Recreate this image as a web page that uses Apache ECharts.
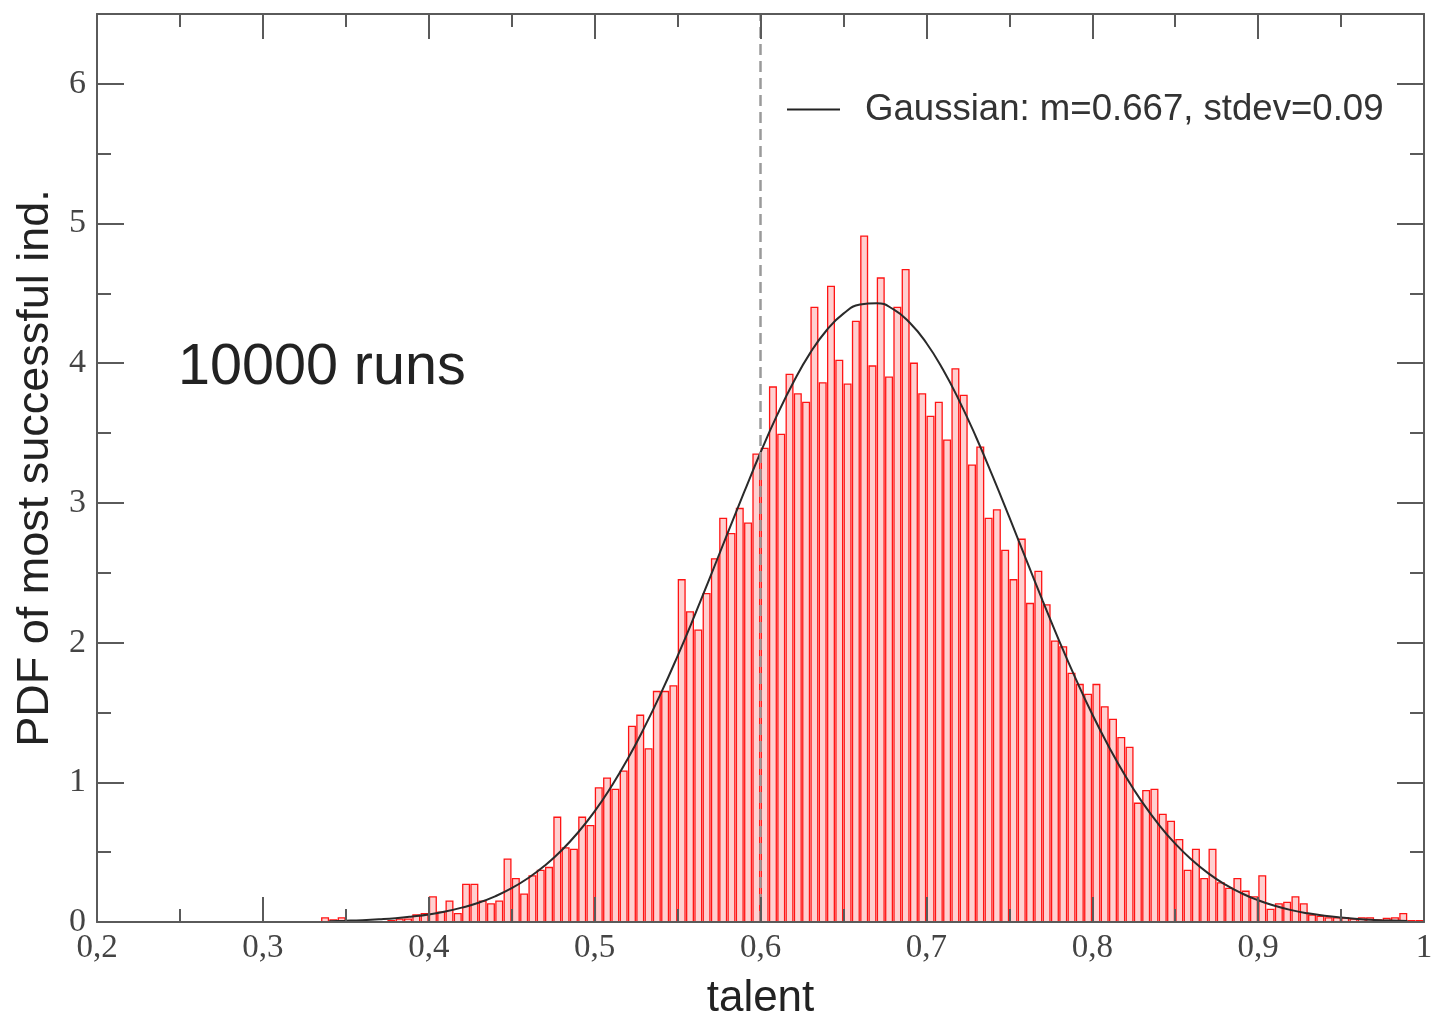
<!DOCTYPE html>
<html>
<head>
<meta charset="utf-8">
<script src="https://cdn.jsdelivr.net/npm/echarts@6/dist/echarts.min.js"></script>
<style>
html,body{margin:0;padding:0;background:#fff;}
#chart{width:1434px;height:1017px;}
</style>
</head>
<body>
<div id="chart"></div>
<script>
// Histogram: bins of width 0.005 starting at 0.335
const binStart = 0.335;
const binWidth = 0.005;
const pdf = [
  0.03, 0.015, 0.03, 0, 0, 0, 0, 0, 0.01, 0.02,
  0.02, 0.05, 0.06, 0.18, 0.07, 0.15, 0.06, 0.27, 0.27, 0.15,
  0.13, 0.15, 0.45, 0.31, 0.20, 0.33, 0.37, 0.39, 0.75, 0.53,
  0.52, 0.75, 0.69, 0.96, 1.03, 0.95, 1.08, 1.40, 1.48, 1.24,
  1.65, 1.65, 1.69, 2.45, 2.22, 2.09, 2.35, 2.60, 2.89, 2.78,
  2.96, 2.855, 3.35, 3.39, 3.83, 3.49, 3.92, 3.78, 3.72, 4.40,
  3.86, 4.55, 4.02, 3.85, 4.30, 4.91, 3.98, 4.61, 3.90, 4.40,
  4.67, 4.00, 3.78, 3.62, 3.72, 3.45, 3.96, 3.77, 3.27, 3.40,
  2.89, 2.95, 2.66, 2.45, 2.74, 2.28, 2.51, 2.27, 2.01, 1.97,
  1.78, 1.70, 1.63, 1.70, 1.54, 1.45, 1.32, 1.25, 0.85, 0.94,
  0.95, 0.77, 0.72, 0.59, 0.37, 0.52, 0.31, 0.52, 0.28, 0.24,
  0.31, 0.22, 0.18, 0.33, 0.09, 0.13, 0.14, 0.18, 0.13, 0.05,
  0.04, 0.03, 0.03, 0.03, 0.02, 0.03, 0.03, 0.015, 0.025, 0.03,
  0.06, 0.01, 0.01
];

// Fitted Gaussian curve
const curveX = [0.34,0.35,0.36,0.37,0.38,0.39,0.40,0.41,0.42,0.43,0.44,0.45,0.46,0.47,0.48,0.49,
  0.50,0.51,0.52,0.53,0.54,0.55,0.56,0.57,0.58,0.59,0.60,0.61,0.62,0.63,0.64,0.65,0.66,0.67,0.68,0.69,
  0.70,0.71,0.72,0.73,0.74,0.75,0.76,0.77,0.78,0.79,0.80,0.81,0.82,0.83,0.84,0.85,0.86,0.87,0.88,0.89,
  0.90,0.91,0.92,0.93,0.94,0.95,0.96,0.97,0.98,0.99];
const curveY = [0.006,0.009,0.013,0.019,0.027,0.039,0.054,0.075,0.103,0.138,0.184,0.242,0.315,0.404,0.512,0.641,
  0.792,0.969,1.168,1.393,1.638,1.904,2.186,2.480,2.778,3.073,3.361,3.628,3.868,4.074,4.238,4.355,4.420,4.430,4.387,4.290,
  4.145,3.955,3.727,3.470,3.190,2.898,2.599,2.303,2.015,1.742,1.487,1.255,1.045,0.860,0.699,0.561,0.445,0.348,0.269,0.206,
  0.156,0.116,0.085,0.062,0.045,0.032,0.022,0.015,0.010,0.007];

const curveName = 'Gaussian: m=0.667, stdev=0.09';
const xTickLabels = ['0,2','0,3','0,4','0,5','0,6','0,7','0,8','0,9','1'];
const yTickLabels = ['0','1','2','3','4','5','6'];
const markX = 0.6;
const annotation = '10000 runs';

const histData = pdf.map((v, i) => {
  const left = binStart + i * binWidth;
  return [left, left + binWidth, v];
});
const curveData = curveX.map((x, i) => [x, curveY[i]]);

const axisColor = '#5a5a5a';
const labelFont = 'Liberation Serif';
const sansFont = 'Liberation Sans';

function renderBin(params, api) {
  const p0 = api.coord([api.value(0), api.value(2)]);
  const p1 = api.coord([api.value(1), 0]);
  const w = p1[0] - p0[0];
  return {
    type: 'rect',
    shape: { x: p0[0] + 0.8, y: p0[1], width: w - 1.6, height: p1[1] - p0[1] },
    style: { fill: '#ffd0d0', stroke: '#ff1414', lineWidth: 1.3 }
  };
}

const chart = echarts.init(document.getElementById('chart'), null, { renderer: 'canvas' });
chart.setOption({
  backgroundColor: '#ffffff',
  animation: false,
  grid: { left: 97, right: 10, top: 14, bottom: 95, containLabel: false, outerBoundsMode: 'none' },
  legend: {
    data: [{ name: curveName, icon: 'rect' }],
    left: 787, top: 91, padding: 0,
    itemWidth: 53, itemHeight: 2,
    textStyle: { fontFamily: sansFont, fontSize: 36.6, color: '#333', padding: [0, 0, 0, 20] }
  },
  graphic: [{
    type: 'text', left: 178, top: 339,
    style: { text: annotation, font: '57.5px "Liberation Sans"', fill: '#222' }
  }],
  xAxis: [{
    type: 'value', min: 0.2, max: 1, interval: 0.1, z: 5,
    name: 'talent', nameLocation: 'middle', nameGap: 55,
    nameTextStyle: { fontFamily: sansFont, fontSize: 44, color: '#222' },
    axisLine: { show: true, onZero: false, lineStyle: { color: axisColor, width: 2 } },
    axisTick: { show: true, inside: true, length: 25, lineStyle: { color: axisColor, width: 2 } },
    minorTick: { show: true, splitNumber: 2, length: 13, lineStyle: { color: axisColor, width: 2 } },
    splitLine: { show: false },
    axisLabel: {
      fontFamily: labelFont, fontSize: 33, color: '#444', margin: 10,
      formatter: v => xTickLabels[Math.round((v - 0.2) * 10)]
    }
  }, {
    type: 'value', position: 'top', min: 0.2, max: 1, interval: 0.1, z: 5,
    axisLine: { show: true, onZero: false, lineStyle: { color: axisColor, width: 2 } },
    axisTick: { show: true, inside: true, length: 25, lineStyle: { color: axisColor, width: 2 } },
    minorTick: { show: true, splitNumber: 2, length: 13, lineStyle: { color: axisColor, width: 2 } },
    splitLine: { show: false },
    axisLabel: { show: false }
  }],
  yAxis: [{
    type: 'value', min: 0, max: 6.5, interval: 1, z: 5,
    name: 'PDF of most successful ind.', nameLocation: 'middle', nameGap: 34,
    nameTextStyle: { fontFamily: sansFont, fontSize: 45, color: '#222' },
    axisLine: { show: true, onZero: false, lineStyle: { color: axisColor, width: 2 } },
    axisTick: { show: true, inside: true, length: 27, lineStyle: { color: axisColor, width: 2 } },
    minorTick: { show: true, splitNumber: 2, length: 14, lineStyle: { color: axisColor, width: 2 } },
    splitLine: { show: false },
    axisLabel: {
      fontFamily: labelFont, fontSize: 34, color: '#444', margin: 11, showMaxLabel: false,
      formatter: v => (Math.abs(v - Math.round(v)) < 1e-6 ? yTickLabels[Math.round(v)] : '')
    }
  }, {
    type: 'value', position: 'right', min: 0, max: 6.5, interval: 1, z: 5,
    axisLine: { show: true, onZero: false, lineStyle: { color: axisColor, width: 2 } },
    axisTick: { show: true, inside: true, length: 27, lineStyle: { color: axisColor, width: 2 } },
    minorTick: { show: true, splitNumber: 2, length: 14, lineStyle: { color: axisColor, width: 2 } },
    splitLine: { show: false },
    axisLabel: { show: false }
  }],
  series: [{
    name: 'histogram',
    type: 'custom',
    xAxisIndex: 0, yAxisIndex: 0,
    renderItem: renderBin,
    data: histData,
    z: 2
  }, {
    name: curveName,
    type: 'line',
    xAxisIndex: 0, yAxisIndex: 0,
    data: curveData,
    smooth: true,
    showSymbol: false,
    color: '#222',
    lineStyle: { color: '#2a2a2a', width: 2 },
    z: 4,
    markLine: {
      silent: true, symbol: 'none',
      label: { show: false },
      lineStyle: { color: '#9a9a9a', type: [11, 6], width: 2.5 },
      data: [{ xAxis: markX }]
    }
  }]
});
</script>
</body>
</html>
